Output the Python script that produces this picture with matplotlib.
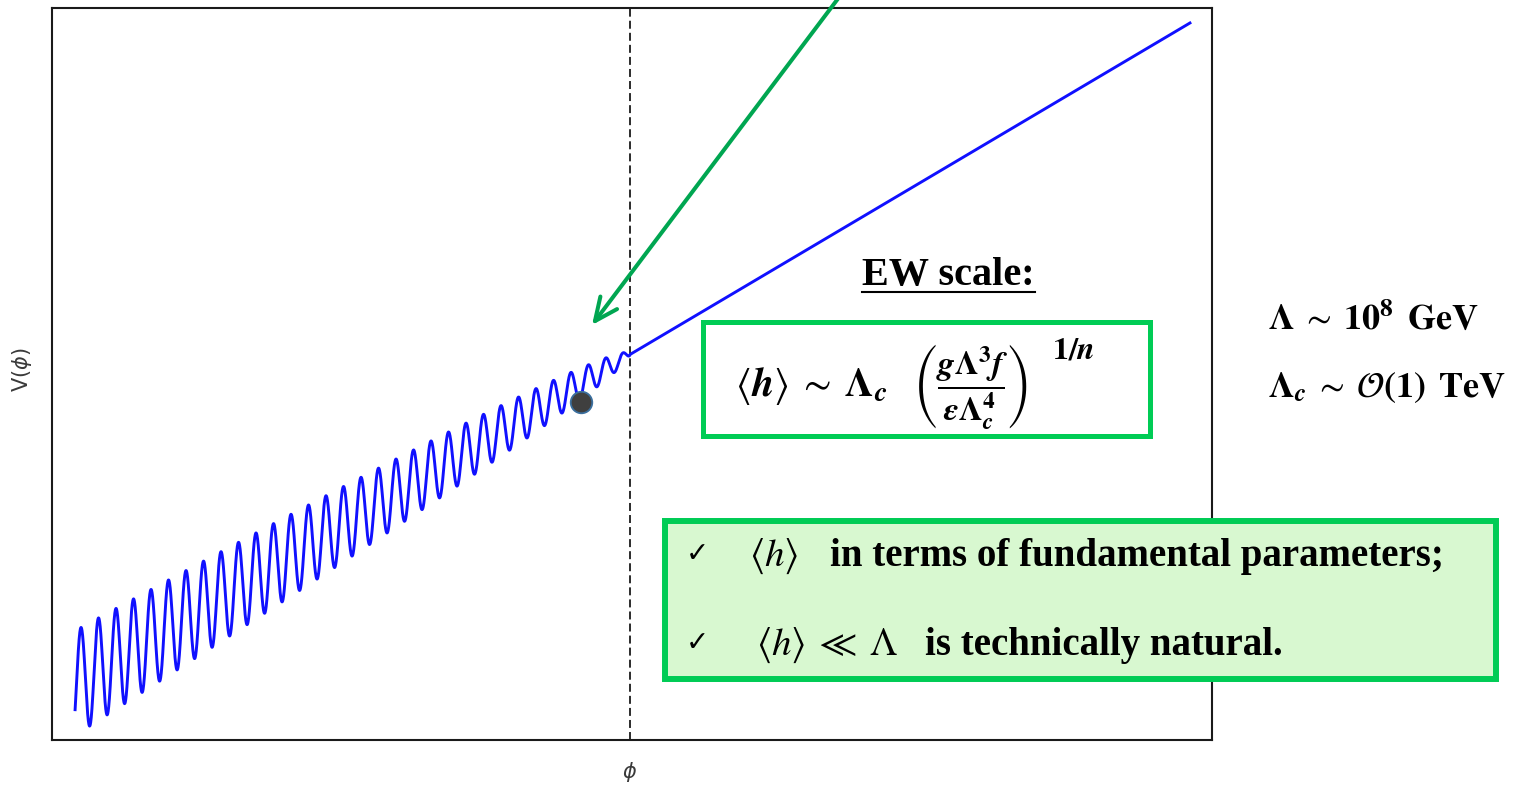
import numpy as np
import matplotlib
matplotlib.use("Agg")
import matplotlib.pyplot as plt
from matplotlib.patches import Rectangle, FancyArrowPatch
from matplotlib.lines import Line2D

plt.rcParams['mathtext.fontset'] = 'stix'

# ---- potential V(phi): field measured in units of one wiggle period ----
phi_start = -31.71
phi_end = 32.0
phi_c = 0.0            # point where the barriers vanish
slope = 10.36          # linear rolling term
wiggle_amp = 9.3       # barrier height grows like sqrt(phi_c - phi)
wiggle_phase = 0.375
phi_lim = [-33.03, 33.26]
v_lim = [-385.5, 346.5]

# resting position of the field
ball_phi = -2.8
ball_v = -47.0

phi = np.linspace(phi_start, phi_end, 8000)
depth = np.clip(phi_c - phi, 0.0, None)
V = slope * (phi - phi_c) + wiggle_amp * np.sqrt(depth) * np.cos(2 * np.pi * (phi + wiggle_phase))

W, H = 1532, 785


def fx(x):
    return x / W


def fy(y):
    return 1 - y / H


fig = plt.figure(figsize=(W / 100, H / 100), dpi=100)
ax = fig.add_axes([fx(52), fy(740), (1212 - 52) / W, (740 - 8) / H])
ax.plot(phi, V, color='#1010ff', lw=2.1, zorder=2)
ax.axvline(phi_c, color='#2b2b2b', lw=1.4, linestyle=(0, (4.1, 2.1)), zorder=1)
ax.plot([ball_phi], [ball_v], 'o', ms=15.5, mfc='#3f3f3f', mec='#3b6f9e', mew=1.3, zorder=3)
ax.set_xlim(phi_lim)
ax.set_ylim(v_lim)
ax.set_xticks([])
ax.set_yticks([])
for s in ax.spines.values():
    s.set_linewidth(1.5)
    s.set_color('#1a1a1a')

fig.text(fx(22), fy(370), r'V($\phi$)', rotation=90, ha='center', va='center',
         fontsize=15, color='#3a3a3a', math_fontfamily='dejavusans')
fig.text(fx(630), fy(772), r'$\phi$', ha='center', va='center',
         fontsize=15, color='#3a3a3a', math_fontfamily='dejavusans')

# arrow pointing down to the minimum
arrow = FancyArrowPatch((fx(846), fy(-12)), (fx(592), fy(325)), transform=fig.transFigure,
                        arrowstyle='->,head_length=16.5,head_width=7.5', mutation_scale=1,
                        lw=2.9, color='#00a651', shrinkA=0, shrinkB=0, capstyle='round',
                        zorder=6)
fig.add_artist(arrow)

green = '#00cc55'
top_box = Rectangle((fx(702.5), fy(435.5)), (1149.5 - 702.5) / W, (435.5 - 321.5) / H,
                    transform=fig.transFigure, facecolor='white', edgecolor=green,
                    lw=3.6, joinstyle='miter', zorder=4)
fig.add_artist(top_box)
low_box = Rectangle((fx(665), fy(679)), (1496 - 665) / W, (679 - 521) / H,
                    transform=fig.transFigure, facecolor='#d8f8d0', edgecolor=green,
                    lw=4.3, joinstyle='miter', zorder=4)
fig.add_artist(low_box)

serif = 'Liberation Serif'
ew = fig.text(fx(862), fy(285), 'EW scale:', fontfamily=serif, fontweight='bold',
              fontsize=29, ha='left', va='baseline', zorder=7)

# <h> ~ Lambda_c (g Lambda^3 f / eps Lambda_c^4)^(1/n)
fig.text(fx(735), fy(396), r'$\langle\boldsymbol{h}\rangle\;\sim\;\boldsymbol{\Lambda}_{\boldsymbol{c}}$',
         fontsize=29, ha='left', va='baseline', zorder=7)
fig.text(fx(912), fy(394),
         r'$\left(\dfrac{\boldsymbol{g\Lambda}^{\mathbf{3}}\boldsymbol{f}}'
         r'{\boldsymbol{\epsilon\Lambda}_{\boldsymbol{c}}^{\mathbf{4}}}\right)$',
         fontsize=24, ha='left', va='baseline', zorder=7)
fig.text(fx(1052), fy(359), r'$\mathbf{1/}\boldsymbol{n}$',
         fontsize=23, ha='left', va='baseline', zorder=7)

fig.text(fx(1268), fy(329), r'$\boldsymbol{\Lambda}\;\sim\;\mathbf{10}^{\mathbf{8}}\ \,\mathbf{GeV}$',
         fontsize=26, ha='left', va='baseline')
fig.text(fx(1268), fy(397), r'$\boldsymbol{\Lambda}_{\boldsymbol{c}}\;\sim\;\mathcal{O}\mathbf{(1)}\ \,\mathbf{TeV}$',
         fontsize=26, ha='left', va='baseline')

for yb, mx, math, px, prose in [
        (566, 749, r'$\langle h\rangle$', 830, 'in terms of fundamental parameters;'),
        (655, 756, r'$\langle h\rangle\;\ll\;\Lambda$', 925, 'is technically natural.')]:
    fig.text(fx(686), fy(yb - 4), '\u2713', fontfamily='DejaVu Sans', fontweight='bold',
             fontsize=20, ha='left', va='baseline', zorder=7)
    fig.text(fx(mx), fy(yb), math, fontsize=28, ha='left', va='baseline', zorder=7)
    fig.text(fx(px), fy(yb), prose, fontfamily=serif, fontweight='bold', fontsize=28,
             ha='left', va='baseline', zorder=7)

# underline the heading
renderer = fig.canvas.get_renderer()
bb = ew.get_window_extent(renderer=renderer)
fig.add_artist(Line2D([bb.x0 / W, bb.x1 / W], [fy(292), fy(292)],
                      transform=fig.transFigure, color='black', lw=1.5, zorder=7))

fig.savefig('out.png', dpi=100)
